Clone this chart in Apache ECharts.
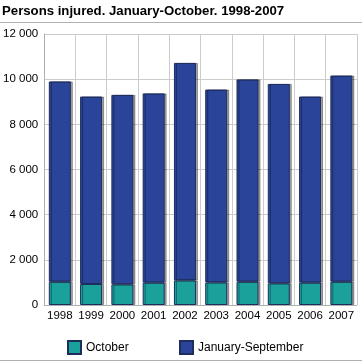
<!DOCTYPE html>
<html><head><meta charset="utf-8">
<script src="https://cdn.jsdelivr.net/npm/echarts@6/dist/echarts.min.js"></script>
<style>html,body{margin:0;padding:0;background:#fff}#c{width:362px;height:363px}</style>
</head><body><div id="c"></div>
<script>
const years = ['1998','1999','2000','2001','2002','2003','2004','2005','2006','2007'];
const october = [1030, 930, 915, 990, 1090, 1000, 1030, 960, 990, 1030];
const janSep = [8870, 8300, 8390, 8380, 9630, 8540, 8960, 8830, 8240, 9130];
const yTicks = [0, 2000, 4000, 6000, 8000, 10000, 12000];

const chart = echarts.init(document.getElementById('c'));
const fmt = v => String(v).replace(/\B(?=(\d{3})+(?!\d))/g, ' ');
const barStyle = (c) => ({color: c, borderColor: '#1e2d5c', borderWidth: 1,
  shadowColor: 'rgba(0,0,0,0.35)', shadowOffsetX: 2, shadowOffsetY: 0, shadowBlur: 0});
chart.setOption({
  animation: false,
  title: {text: 'Persons injured. January-October. 1998-2007', left: 2, top: 5, padding: [0, 0, 0, 0],
    textStyle: {fontFamily: 'Liberation Sans', fontWeight: 'bold', fontSize: 13.2, color: '#000'}},
  graphic: [
    {type: 'line', shape: {x1: 0, y1: 22.5, x2: 362, y2: 22.5}, style: {stroke: '#b0b0b0', lineWidth: 1}},
    {type: 'line', shape: {x1: 0, y1: 360.5, x2: 362, y2: 360.5}, style: {stroke: '#b0b0b0', lineWidth: 1}}
  ],
  legend: [
    {data: ['October'], left: 67, top: 340, padding: 0, itemWidth: 13, itemHeight: 13, icon: 'rect',
      textStyle: {fontFamily: 'Liberation Sans', fontSize: 12, color: '#000'}},
    {data: ['January-September'], left: 179, top: 340, padding: 0, itemWidth: 13, itemHeight: 13, icon: 'rect',
      textStyle: {fontFamily: 'Liberation Sans', fontSize: 12, color: '#000'}}
  ],
  grid: {left: 44, right: 5, top: 34, bottom: 58},
  xAxis: {type: 'category', data: years,
    axisLine: {lineStyle: {color: '#b0b0b0'}}, axisTick: {show: false},
    splitLine: {show: true, lineStyle: {color: '#cccccc'}},
    axisLabel: {fontFamily: 'Liberation Sans', fontSize: 11.5, color: '#000', margin: 5, interval: 0}},
  yAxis: {type: 'value', min: yTicks[0], max: yTicks[yTicks.length-1], interval: 2000,
    axisLine: {show: true, lineStyle: {color: '#b0b0b0'}}, axisTick: {show: false},
    splitLine: {lineStyle: {color: '#cccccc'}},
    axisLabel: {fontFamily: 'Liberation Sans', fontSize: 11.5, color: '#000', margin: 6, formatter: fmt}},
  series: [
    {name: 'October', type: 'bar', stack: 't', data: october, barWidth: 22, itemStyle: barStyle('#1aa19c')},
    {name: 'January-September', type: 'bar', stack: 't', data: janSep, barWidth: 22, itemStyle: barStyle('#2a4499')}
  ]
});
</script></body></html>
